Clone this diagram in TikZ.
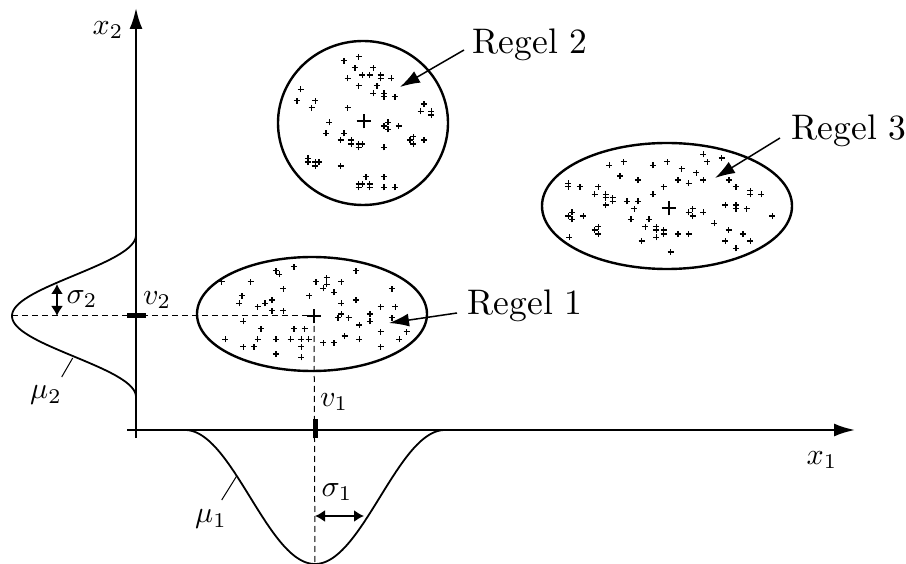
\documentclass[tikz,border=0pt]{standalone}
\usetikzlibrary{arrows.meta,shapes.misc}
\begin{document}
\begin{tikzpicture}[x=1pt,y=-1pt,
  axis/.style={line width=2.4pt,-{Latex[length=21pt,width=13pt]}},
  rim/.style={line width=2.4pt},
  curve/.style={line width=1.8pt},
  guide/.style={line width=1pt,dash pattern=on 6pt off 4pt},
  tick/.style={line width=5pt},
  ptr/.style={line width=1.5pt,-{Latex[length=20pt,width=13pt]}},
  sig/.style={line width=1.8pt,{Latex[length=10pt,width=12pt]}-{Latex[length=10pt,width=12pt]}},
  pl/.style={draw,cross out,rotate=45,minimum size=3.3pt,inner sep=0pt,line width=1.1pt},
  ctr/.style={draw,cross out,rotate=45,minimum size=8.5pt,inner sep=0pt,line width=2pt},
  lab/.style={font=\fontsize{10}{12}\selectfont,inner sep=0pt,scale=3.55,transform shape},
  mlab/.style={font=\fontsize{10}{12}\selectfont,inner sep=0pt,scale=3.0,transform shape}]
\useasboundingbox (0,0) rectangle (906,564);

% axes
\coordinate (ybot) at (136,438);
\coordinate (ytop) at (136,8);
\coordinate (xl) at (127,430);
\coordinate (xr) at (855,430);
\draw[axis] (ybot) -- (ytop);
\draw[axis] (xl) -- (xr);
\node[mlab] (x2) at (108,30) {$x_2$};
\node[mlab] (x1) at (822,460) {$x_1$};

% membership curve on x1 (raised cosine)
\draw[curve] plot[domain=185:445,samples=140,variable=\t]
  (\t,{430+67*(1+cos((\t-315)/130*180))});
% membership curve on x2
\draw[curve] plot[domain=235:397,samples=120,variable=\t]
  ({136-62*(1+cos((\t-316)/81*180))},\t);

% clusters
\node[ctr] (c1) at (314,316) {};
\node[ctr] (c2) at (364,121) {};
\node[ctr] (c3) at (669,208) {};
\draw[rim] (312,314) ellipse [x radius=115,y radius=57];
\draw[rim] (363,123) ellipse [x radius=85,y radius=82];
\draw[rim] (667,206) ellipse [x radius=125,y radius=63];

% guide lines
\coordinate (pk2) at (12,316);
\coordinate (vb) at (315,564);
\draw[guide] (pk2) -- (c1.center);
\draw[guide] (c1.center) -- (vb);

% ticks
\coordinate (t2a) at (127,316); \coordinate (t2b) at (146,316);
\coordinate (t1a) at (315,419); \coordinate (t1b) at (315,438);
\draw[tick] (t2a) -- (t2b);
\draw[tick] (t1a) -- (t1b);
\node[mlab] (v2) at (157,300) {$v_2$};
\node[mlab] (v1) at (334,402) {$v_1$};

% sigma arrows
\coordinate (s2a) at (57,316); \coordinate (s2b) at (57,284);
\draw[sig] (s2a) -- (s2b);
\node[mlab] (sg2) at (82,299) {$\sigma_2$};
\coordinate (s1a) at (315,516); \coordinate (s1b) at (364,516);
\draw[sig] (s1a) -- (s1b);
\node[mlab] (sg1) at (337,492) {$\sigma_1$};

% mu labels
\node[mlab] (mu2) at (46,395) {$\mu_2$};
\coordinate (m2a) at (72.7,358); \coordinate (m2b) at (61.7,377);
\draw[line width=1pt] (m2a) -- (m2b);
\node[mlab] (mu1) at (211,519) {$\mu_1$};
\coordinate (m1a) at (236.7,476); \coordinate (m1b) at (221.7,500);
\draw[line width=1pt] (m1a) -- (m1b);

% rule labels
\node[lab,anchor=base west] (r1) at (467,315) {Regel 1};
\node[lab,anchor=base west] (r2) at (472,54) {Regel 2};
\node[lab,anchor=base west] (r3) at (791,140) {Regel 3};
\coordinate (a1) at (389,323);
\coordinate (a2) at (400,87);
\coordinate (a3) at (715,178);
\coordinate (b1) at (457,313);
\coordinate (b2) at (464,50);
\coordinate (b3) at (780,138);
\draw[ptr] (b1) -- (a1);
\draw[ptr] (b2) -- (a2);
\draw[ptr] (b3) -- (a3);

% data points, rule 1
\foreach \a/\b in {125/95,212/95,288/62,298/73,342/50,408/95,440/83,430/115,440/103,484/95,528/62,636/116,310/116,186/137,276/150,178/160,233/170,255/160,276/182,310/182,388/137,462/127,484/160,528/150,602/170,646/170,474/203,484/192,506/203,570/192,570/214,538/225,636/203,190/214,243/236,342/236,374/236,602/245,680/245,658/268,136/268,233/268,288/268,332/268,364/268,386/268,430/278,462/278,494/258,538/268,602/290,190/290,222/290,288/312,364/322,364/290}
  \node[pl] at ({180+\a/3},{250+\b/3}) {};
% data points, rule 2
\foreach \a/\b in {222/62,266/50,255/83,310/83,277/105,299/105,332/105,332/115,364/115,233/115,266/137,321/137,310/160,342/160,342/170,375/170,92/148,81/182,136/182,125/203,233/203,462/192,452/214,484/214,484/225,178/247,168/280,222/280,212/300,244/300,244/312,266/312,266/322,277/312,342/322,354/247,342/258,354/268,386/258,430/290,420/300,430/312,462/300,114/355,114/366,136/366,147/366,136/378,212/378,288/410,342/410,266/432,266/442,277/432,299/432,299/442,342/442,375/442}
  \node[pl] at ({270+\a/3},{40+\b/3}) {};
% data points, rule 3
\foreach \a/\b in {238/106,281/95,369/106,412/95,520/73,532/95,575/84,455/116,499/128,270/138,324/150,444/150,476/160,520/150,597/150,115/160,115/170,150/170,205/170,194/193,227/193,227/203,227/225,248/203,248/214,291/214,324/214,313/236,369/193,401/170,618/170,661/182,661/193,694/193,586/225,618/225,618/236,650/236,476/247,488/236,488/258,520/247,115/258,126/247,126/268,160/258,303/268,357/268,346/290,379/290,379/300,379/322,401/300,401/312,444/312,476/312,553/280,727/258,194/300,205/290,205/312,118/322,335/333,596/300,639/312,586/333,618/355,661/333,422/366}
  \node[pl] at ({530+\a/3},{130+\b/3}) {};
\end{tikzpicture}
\end{document}
